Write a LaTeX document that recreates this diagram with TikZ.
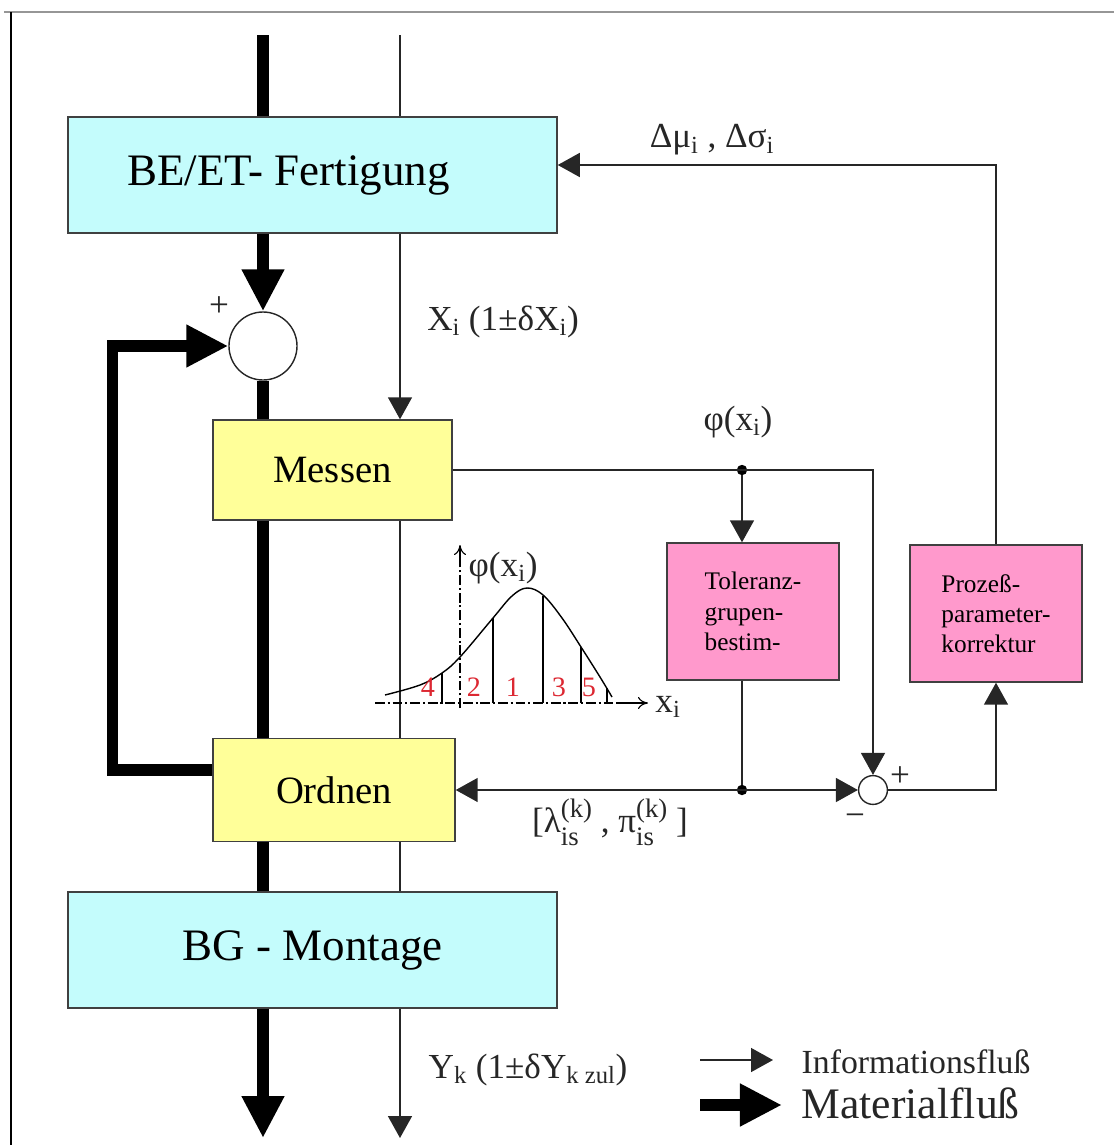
\documentclass[tikz,border=0pt]{standalone}
\usepackage{fontspec}
\setmainfont{Liberation Serif}
\usetikzlibrary{arrows.meta,positioning,calc}
\definecolor{aqua}{RGB}{196,252,252}
\definecolor{lemon}{RGB}{255,255,153}
\definecolor{rose}{RGB}{255,153,204}
\definecolor{framegray}{RGB}{150,150,150}
\definecolor{numred}{RGB}{220,40,50}
\newcommand\fontbig{\fontsize{32}{38}\selectfont}
\newcommand\fontmid{\fontsize{27.5}{32}\selectfont}
\newcommand\fontlab{\fontsize{25}{30}\selectfont}
\newcommand\fontsmall{\fontsize{18}{21.5}\selectfont}
\newcommand\supsub[2]{{\fontsize{19}{20}\selectfont\begin{tabular}{@{}l@{}}#1\\#2\end{tabular}}}
\tikzset{
  >={Triangle[length=5.5mm,width=6mm]},
  Mat/.tip={Triangle[length=10.5mm,width=10mm]},
  block/.style={draw=black!75,fill=#1,line width=1pt,inner sep=0pt,align=center},
  block/.default=aqua,
  summer/.style={circle,draw=black!85,fill=white,line width=1pt,inner sep=0pt,minimum size=#1},
  flow/.style={line width=1.1pt,draw=black!85},
  matflow/.style={line width=8pt,draw=black},
  dot/.style={circle,fill=black,inner sep=0pt,minimum size=2.6mm},
  tag/.style={font=\fontlab,text=black!85,inner sep=1pt},
  axis/.style={line width=0.8pt,dash pattern=on 7pt off 2pt on 1.5pt off 2pt},
}
\begin{document}
\begin{tikzpicture}[x=0.025cm,y=-0.025cm]
  \useasboundingbox (0,0) rectangle (1114,1145);
  % frame
  \draw[framegray,line width=1.5pt] (4,12) -- (1114,12);
  \draw[line width=1pt] (11,12) -- (11,1145);

  % blocks
  \node[block,minimum width=12.225cm,minimum height=2.9cm,font=\fontbig] (fert) at (312.5,175) {BE/ET- Fertigung\hspace{1.2cm}};
  \node[summer=1.7cm] (sum1) at (263,346) {};
  \node[block=lemon,minimum width=5.975cm,minimum height=2.5cm,font=\fontmid] (mess) at (332.5,470) {Messen};
  \node[block=lemon,minimum width=6.05cm,minimum height=2.575cm,font=\fontmid] (ord) at (334,790) {Ordnen};
  \node[block,minimum width=12.225cm,minimum height=2.9cm,font=\fontbig] (mont) at (312.5,950) {BG - Montage};
  \node[block=rose,minimum width=4.3cm,minimum height=3.425cm,align=left,font=\fontsmall] (tol) at (753,611.5) {Toleranz-\\grupen-\\bestim-};
  \node[block=rose,minimum width=4.3cm,minimum height=3.425cm,align=left,font=\fontsmall] (proz) at (996,613.5) {Prozeß-\\parameter-\\korrektur};
  \node[summer=0.72cm] (sum2) at (873,790) {};
  \node[dot] (jphi) at (742,470) {};
  \node[dot] (jlam) at (742,790) {};

  % material flow
  \coordinate (mtop) at (263,35);
  \coordinate (mbot) at (263,1138);
  \draw[matflow] (mtop) -- (mtop |- fert.north);
  \draw[matflow,-Mat] (mtop |- fert.south) -- (sum1.north);
  \draw[matflow] (sum1.south) -- (mtop |- mess.north);
  \draw[matflow] (mtop |- mess.south) -- (mtop |- ord.north);
  \draw[matflow] (mtop |- ord.south) -- (mtop |- mont.north);
  \draw[matflow,-Mat] (mtop |- mont.south) -- (mbot);
  \draw[matflow,-Mat] ([yshift=0.5cm]ord.west) -- ++(-100,0) |- (sum1.west);

  % information flow
  \coordinate (itop) at (400,35);
  \coordinate (ibot) at (400,1138);
  \draw[flow] (itop) -- (itop |- fert.north);
  \draw[flow,->] (itop |- fert.south) -- (itop |- mess.north);
  \draw[flow] (itop |- mess.south) -- (itop |- ord.north);
  \draw[flow] (itop |- ord.south) -- (itop |- mont.north);
  \draw[flow,->] (itop |- mont.south) -- (ibot);
  \draw[flow,->] (mess.east) -| (sum2.north);
  \draw[flow,->] (jphi) -- (jphi |- tol.north);
  \draw[flow] (jphi |- tol.south) -- (jlam);
  \draw[flow,<->] (ord.east) -- (sum2.west);
  \draw[flow,->] (sum2.east) -| (proz.south);
  \draw[flow,->] (proz.north) |- ([yshift=0.25cm]fert.east);

  % labels
  \node[tag] (lplus1) at (219,307) {+};
  \node[tag] (lplus2) at (900,777) {+};
  \node[tag] (lminus) at (855,820) {−};
  \node[tag] (lxi) at (503,322) {X\textsubscript{i} (1±δX\textsubscript{i})};
  \node[tag] (ldelta) at (712,140) {Δμ\textsubscript{i} , Δσ\textsubscript{i}};
  \node[tag] (lphi) at (738,422) {φ(x\textsubscript{i})};
  \node[tag] (llam) at (610,826) {[λ\supsub{(k)}{is} , π\supsub{(k)}{is} ]};
  \node[tag] (lyk) at (528,1070) {Y\textsubscript{k} (1±δY\textsubscript{k zul})};

  % distribution sketch
  \draw[axis] (375,703) -- (617,703);
  \draw[line width=0.8pt,-{To[length=2.5mm,width=3mm]}] (617,703) -- (648,703);
  \draw[axis] (460,708) -- (460,562);
  \draw[line width=0.8pt,-{To[length=2.5mm,width=3mm]}] (460,562) -- (460,545);
  \draw[line width=1pt] plot[smooth,tension=0.6] coordinates {(385,695) (420,685) (442,673) (460,657) (493,618) (512,596) (527,588) (543,595) (562,618) (581,647) (600,677) (612,697)};
  \foreach \x/\h in {442/673,493/618,543/596,581/647,607/688}
    \draw[line width=1pt] (\x,703) -- (\x,\h);
  \foreach \n/\x in {4/428,2/474,1/513,3/559,5/589}
    \node[font=\fontsize{20}{22}\selectfont,text=numred,inner sep=0pt] (g\n) at (\x,687) {\n};
  \node[tag,anchor=west] (lphiax) at (467,568) {φ(x\textsubscript{i})};
  \node[tag] (lxax) at (668,707) {x\textsubscript{i}};

  % legend
  \coordinate (legi) at (700,1060);
  \coordinate (legm) at (700,1105);
  \draw[flow,->] (legi) -- ++(73,0);
  \draw[matflow,-Mat] (legm) -- ++(82,0);
  \node[tag,anchor=west,font=\fontsize{24}{28}\selectfont] (linfo) at (800,1062) {Informationsfluß};
  \node[tag,anchor=west,font=\fontsize{31}{36}\selectfont] (lmat) at (800,1103) {Materialfluß};
\end{tikzpicture}
\end{document}
